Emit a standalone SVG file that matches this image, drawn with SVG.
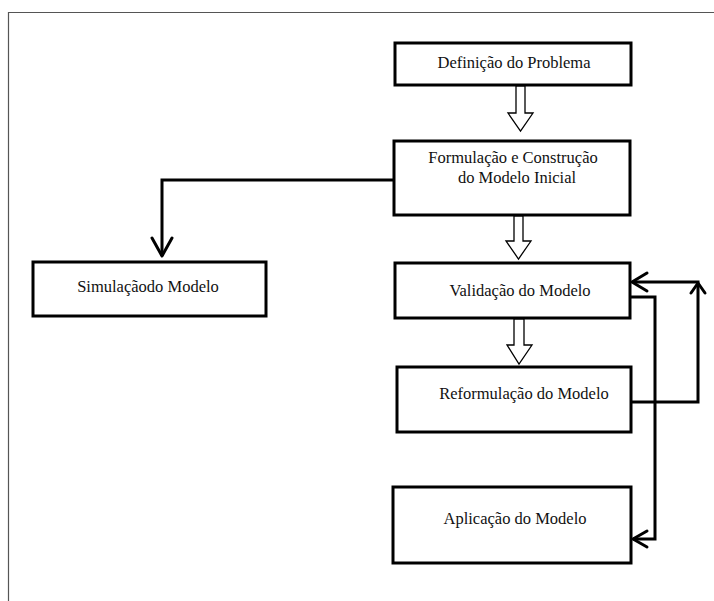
<svg xmlns="http://www.w3.org/2000/svg" width="714" height="601" viewBox="0 0 714 601">
<style>
.box{fill:#fff;stroke:#000;stroke-width:3}
.t{font-family:"Liberation Serif","Times New Roman",serif;font-size:16.5px;fill:#111;text-anchor:middle}
.c{fill:none;stroke:#000;stroke-width:3;stroke-linejoin:miter}
.h{fill:none;stroke:#000;stroke-width:3;stroke-linecap:round;stroke-linejoin:round}
.ha{fill:#fff;stroke:#000;stroke-width:1.3}
.frame{fill:none;stroke:#555;stroke-width:1.2}
</style>
<rect width="714" height="601" fill="#fff"/>
<path class="frame" d="M8.5,601 V12.5 H714"/>
<g id="n1"><rect class="box" x="395" y="43" width="236" height="42"/><text class="t" x="514" y="68">Definição do Problema</text></g>
<g id="n2"><rect class="box" x="394" y="141" width="236" height="74"/><text class="t" x="513" y="163">Formulação e Construção</text><text class="t" x="517" y="183">do Modelo Inicial</text></g>
<g id="n3"><rect class="box" x="33" y="262" width="233" height="54"/><text class="t" x="148" y="292">Simulaçãodo Modelo</text></g>
<g id="n4"><rect class="box" x="395" y="263" width="235" height="55"/><text class="t" x="520" y="296">Validação do Modelo</text></g>
<g id="n5"><rect class="box" x="397" y="367" width="234" height="65"/><text class="t" x="524" y="399">Reformulação do Modelo</text></g>
<g id="n6"><rect class="box" x="393" y="487" width="238" height="76"/><text class="t" x="515" y="524">Aplicação do Modelo</text></g>
<g id="connectors">
<path class="ha" d="M516,86 H525 V113 H533 L520.5,131 L508,113 H516 Z"/>
<path class="ha" d="M514,216 H523 V241 H531 L518.5,259 L506,241 H514 Z"/>
<path class="ha" d="M514,319 H524 V345 H532 L519,364 L507,345 H514 Z"/>
<path class="c" d="M394,180 H162 V256"/>
<path class="h" d="M152,238 L162,256 L172,238"/>
<path class="c" d="M631,297 H655 V539 H633"/>
<path class="h" d="M647,531 L633,539 L647,547"/>
<path class="c" d="M632,402 H698 V282 H633"/>
<path class="h" d="M647,273 L632,282 L647,291"/>
<path class="h" d="M691,293 L698,283 L705,293"/>
</g>
</svg>
